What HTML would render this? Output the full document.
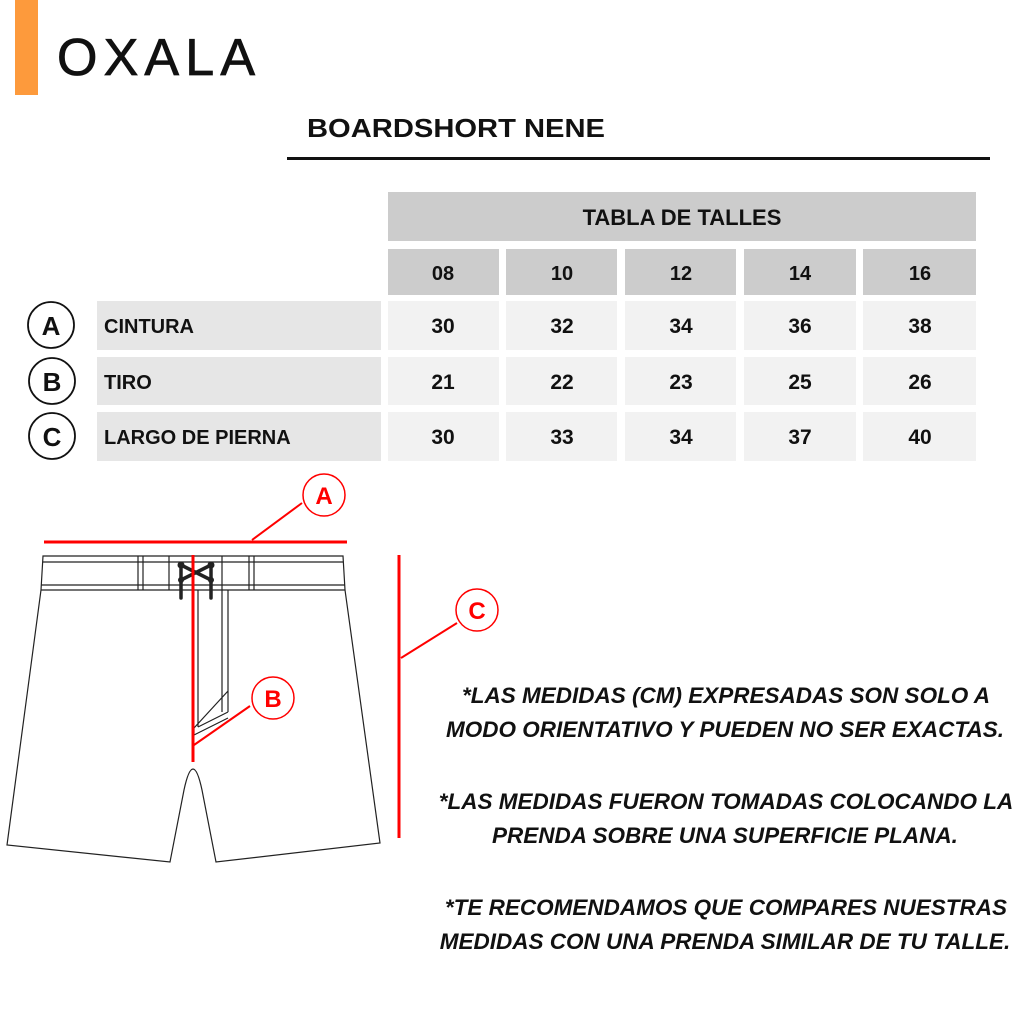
<!DOCTYPE html>
<html><head><meta charset="utf-8"><style>
html,body{margin:0;padding:0;background:#fff;width:1024px;height:1024px;overflow:hidden}
svg{display:block}
text{font-family:"Liberation Sans",sans-serif;font-weight:bold;fill:#111}
</style></head><body>
<svg width="1024" height="1024" viewBox="0 0 1024 1024" xmlns="http://www.w3.org/2000/svg">
<rect x="15" y="0" width="23" height="95" fill="#fd9a3c"/>
<text x="57" y="75" font-size="52" textLength="198" lengthAdjust="spacing" style="font-weight:normal;stroke:#111;stroke-width:0.8">OXALA</text>
<text x="307" y="137" font-size="26" textLength="298" lengthAdjust="spacingAndGlyphs">BOARDSHORT  NENE</text>
<rect x="287" y="157" width="703" height="3" fill="#111"/>
<rect x="388" y="192" width="588" height="49" fill="#cccccc"/>
<text x="682" y="225" font-size="22" text-anchor="middle">TABLA DE TALLES</text>
<g fill="#cccccc">
<rect x="388" y="249" width="111" height="46"/><rect x="506" y="249" width="111" height="46"/><rect x="625" y="249" width="111" height="46"/><rect x="744" y="249" width="112" height="46"/><rect x="863" y="249" width="113" height="46"/>
</g>
<g font-size="20" text-anchor="middle">
<text x="443" y="280">08</text><text x="562" y="280">10</text><text x="681" y="280">12</text><text x="800" y="280">14</text><text x="920" y="280">16</text>
</g>
<g fill="#e6e6e6"><rect x="97" y="301" width="284" height="49"/><rect x="97" y="357" width="284" height="48"/><rect x="97" y="412" width="284" height="49"/></g>
<g fill="#f2f2f2">
<rect x="388" y="301" width="111" height="49"/><rect x="506" y="301" width="111" height="49"/><rect x="625" y="301" width="111" height="49"/><rect x="744" y="301" width="112" height="49"/><rect x="863" y="301" width="113" height="49"/>
<rect x="388" y="357" width="111" height="48"/><rect x="506" y="357" width="111" height="48"/><rect x="625" y="357" width="111" height="48"/><rect x="744" y="357" width="112" height="48"/><rect x="863" y="357" width="113" height="48"/>
<rect x="388" y="412" width="111" height="49"/><rect x="506" y="412" width="111" height="49"/><rect x="625" y="412" width="111" height="49"/><rect x="744" y="412" width="112" height="49"/><rect x="863" y="412" width="113" height="49"/>
</g>
<g font-size="20">
<text x="104" y="333">CINTURA</text><text x="104" y="389">TIRO</text><text x="104" y="444">LARGO DE PIERNA</text>
</g>
<g font-size="21" text-anchor="middle">
<text x="443" y="333">30</text><text x="562" y="333">32</text><text x="681" y="333">34</text><text x="800" y="333">36</text><text x="920" y="333">38</text>
<text x="443" y="389">21</text><text x="562" y="389">22</text><text x="681" y="389">23</text><text x="800" y="389">25</text><text x="920" y="389">26</text>
<text x="443" y="444">30</text><text x="562" y="444">33</text><text x="681" y="444">34</text><text x="800" y="444">37</text><text x="920" y="444">40</text>
</g>
<g fill="none" stroke="#111" stroke-width="1.8">
<circle cx="51" cy="325" r="23"/><circle cx="52" cy="381" r="23"/><circle cx="52" cy="436" r="23"/>
</g>
<g font-size="26" text-anchor="middle">
<text x="51" y="335">A</text><text x="52" y="391">B</text><text x="52" y="446">C</text>
</g>
<g fill="none" stroke="#222" stroke-width="1.2">
<path d="M43 556 L343 556 L345 590 L380 843 L216 862 L202 790 Q193 748 184 790 L170 862 L7 845 L41 590 Z"/>
<path d="M41 590 L345 590 M43 562 L343 562 M41 585 L345 585"/>
<path d="M138 556 L138 590 M143 556 L143 590 M169 556 L169 590 M222 556 L222 590 M249 556 L249 590 M254 556 L254 590"/>
<path d="M198 590 L198 727 M228 590 L228 712 M198 727 L228 712 M194 735 L228 718 M194 728 L228 691 M222 590 L222 712 M194 728 L194 735"/>
</g>
<g stroke="#222" stroke-width="3.5" fill="none" stroke-linecap="round">
<path d="M181 565 L211 580 M211 565 L181 580 M181 565 L181 598 M211 565 L211 598"/>
</g>
<g fill="#222"><circle cx="181" cy="565" r="3.5"/><circle cx="211" cy="565" r="3.5"/><circle cx="181" cy="580" r="3"/><circle cx="211" cy="580" r="3"/></g>
<g stroke="#f00" fill="none">
<path d="M44 542 L347 542" stroke-width="3"/>
<path d="M252 540 L302 503" stroke-width="2"/>
<path d="M193 555 L193 762" stroke-width="3"/>
<path d="M194 745 L250 706" stroke-width="2"/>
<path d="M399 555 L399 838" stroke-width="3"/>
<path d="M401 658 L457 623" stroke-width="2"/>
<circle cx="324" cy="495" r="21" stroke-width="1.5"/>
<circle cx="273" cy="698" r="21" stroke-width="1.5"/>
<circle cx="477" cy="610" r="21" stroke-width="1.5"/>
</g>
<g font-size="24" text-anchor="middle">
<text x="324" y="504" style="fill:#f00">A</text><text x="273" y="707" style="fill:#f00">B</text><text x="477" y="619" style="fill:#f00">C</text>
</g>
<g font-size="22.5" text-anchor="middle" font-style="italic">
<text x="726" y="703">*LAS MEDIDAS (CM) EXPRESADAS SON SOLO A</text>
<text x="725" y="737">MODO ORIENTATIVO Y PUEDEN NO SER EXACTAS.</text>
<text x="726" y="809">*LAS MEDIDAS FUERON TOMADAS COLOCANDO LA</text>
<text x="725" y="843">PRENDA SOBRE UNA SUPERFICIE PLANA.</text>
<text x="726" y="915">*TE RECOMENDAMOS QUE COMPARES NUESTRAS</text>
<text x="725" y="949">MEDIDAS CON UNA PRENDA SIMILAR DE TU TALLE.</text>
</g>
</svg>
</body></html>
